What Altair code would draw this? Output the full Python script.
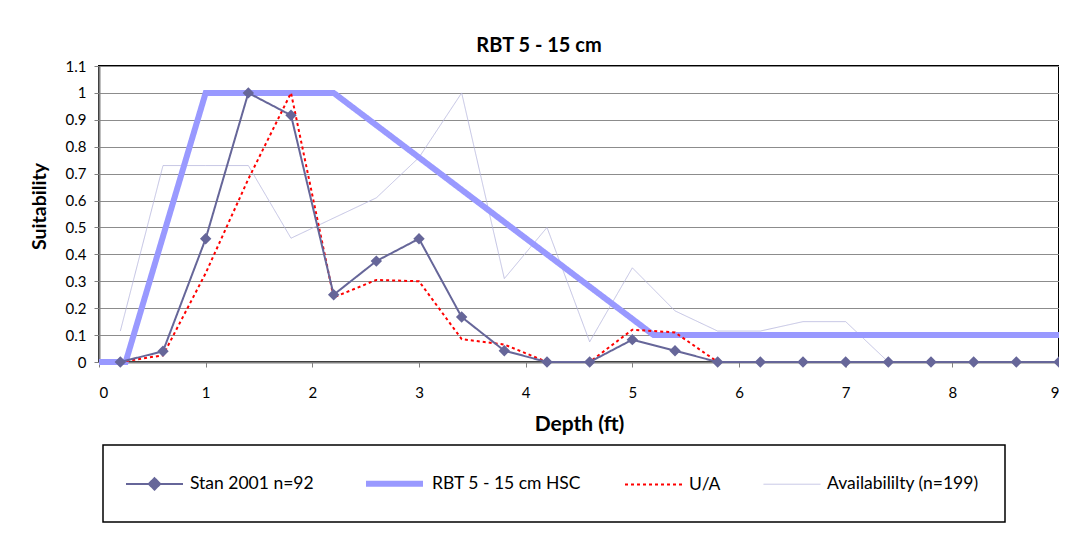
import altair as alt
import pandas as pd

# ---- data ----
depth = [0.2, 0.6, 1.0, 1.4, 1.8, 2.2, 2.6, 3.0, 3.4, 3.8, 4.2, 4.6,
         5.0, 5.4, 5.8, 6.2, 6.6, 7.0, 7.4, 7.8, 8.2, 8.6, 9.0]
stan = [0.0, 0.04, 0.458, 1.0, 0.917, 0.25, 0.375, 0.458, 0.167, 0.042, 0.0, 0.0,
        0.083, 0.042, 0.0, 0.0, 0.0, 0.0, 0.0, 0.0, 0.0, 0.0, 0.0]
ua = [0.0, 0.025, 0.33, 0.68, 1.0, 0.24, 0.305, 0.30, 0.085, 0.065, 0.0, 0.0,
      0.12, 0.11, 0.0, 0.0, 0.0, 0.0, 0.0, 0.0, 0.0, 0.0, 0.0]
avail = [0.115, 0.73, 0.73, 0.73, 0.46, 0.535, 0.61, 0.76, 1.0, 0.31, 0.50, 0.075,
         0.35, 0.19, 0.115, 0.115, 0.15, 0.15, 0.0, 0.0, 0.0, 0.0, 0.0]
hsc_depth = [0.0, 0.25, 1.0, 2.2, 5.2, 9.0]
hsc = [0.0, 0.0, 1.0, 1.0, 0.1, 0.1]

series_names = ["Stan 2001 n=92", "RBT 5 - 15 cm HSC", "U/A", "Availabililty (n=199)"]
x_ticks = [0, 1, 2, 3, 4, 5, 6, 7, 8, 9]
y_ticks = [0, 0.1, 0.2, 0.3, 0.4, 0.5, 0.6, 0.7, 0.8, 0.9, 1.0, 1.1]

rows = []
for d, v in zip(depth, stan):
    rows.append({"series": series_names[0], "depth": d, "value": v})
for d, v in zip(hsc_depth, hsc):
    rows.append({"series": series_names[1], "depth": d, "value": v})
for d, v in zip(depth, ua):
    rows.append({"series": series_names[2], "depth": d, "value": v})
for d, v in zip(depth, avail):
    rows.append({"series": series_names[3], "depth": d, "value": v})
df = pd.DataFrame(rows)

FONT = "Lato"
LINE_PATH = "M-3,0L3,0"
DIAMOND_PATH = "M-3,0L3,0M-0.6,0L0,-0.6L0.6,0L0,0.6Z"

x_enc = alt.X("depth:Q",
              scale=alt.Scale(domain=[0, 9], nice=False, zero=False),
              axis=alt.Axis(values=x_ticks, title="Depth (ft)", grid=False,
                            format="~g", tickSize=5, labelPadding=18,
                            titlePadding=13, titleFontSize=21))
y_enc = alt.Y("value:Q",
              scale=alt.Scale(domain=[0, 1.1], nice=False),
              axis=alt.Axis(values=y_ticks, title="Suitability", grid=True,
                            format="~g", tickSize=5, labelPadding=8,
                            titlePadding=16, titleY=140, titleFontSize=19.5))

color_enc = alt.Color("series:N", title=None,
                      scale=alt.Scale(domain=series_names,
                                      range=["#666699", "#9999ff", "#ff0000", "#b4b4dc"]))
dash_enc = alt.StrokeDash("series:N", title=None,
                          scale=alt.Scale(domain=series_names,
                                          range=[[1, 0], [1, 0], [3, 3], [1, 0]]))
width_enc = alt.StrokeWidth("series:N", title=None,
                            scale=alt.Scale(type="ordinal", domain=series_names,
                                            range=[2, 6, 2, 0.8]))
shape_enc = alt.Shape("series:N", title=None,
                      scale=alt.Scale(domain=series_names,
                                      range=[DIAMOND_PATH, LINE_PATH, LINE_PATH, LINE_PATH]))

base = alt.Chart(df)


def line_layer(name):
    return base.transform_filter(alt.datum.series == name).mark_line(clip=False).encode(
        x=x_enc, y=y_enc, color=color_enc, strokeDash=dash_enc, strokeWidth=width_enc)


points = base.transform_filter(alt.datum.series == series_names[0]).mark_point(
    filled=True, size=361, opacity=1
).encode(x=x_enc, y=y_enc, color=color_enc, shape=shape_enc)

chart = alt.layer(
    line_layer(series_names[3]),
    line_layer(series_names[1]),
    line_layer(series_names[2]),
    line_layer(series_names[0]),
    points,
).properties(
    width=960, height=296,
    title=alt.TitleParams("RBT 5 - 15 cm", fontSize=20, fontWeight="bold",
                          font=FONT, anchor="middle", dx=-40, offset=3, color="black"),
    padding={"left": 91, "top": 58, "right": 0, "bottom": 165},
    autosize=alt.AutoSizeParams(type="none"),
).configure_view(
    stroke="black", strokeWidth=2
).configure_axis(
    labelFont=FONT, labelFontSize=15, labelColor="black",
    titleFont=FONT, titleFontWeight="bold", titleColor="black",
    domainColor="#808080", domainWidth=2, tickColor="#808080", tickWidth=1,
    gridColor="#8c8c8c", gridWidth=1,
).configure_legend(
    orient="none", legendX=4, legendY=379, direction="horizontal",
    strokeColor="black", strokeWidth=1.5, padding=26,
    symbolType=LINE_PATH, symbolSize=361, symbolFillColor="#666699",
    symbolOffset=15,
    labelFont=FONT, labelFontSize=17.5,
    labelColor="black", labelOffset=25, columnPadding=40, labelLimit=400,
)

chart.save("out.html", embed_options={"renderer": "svg", "actions": False})
